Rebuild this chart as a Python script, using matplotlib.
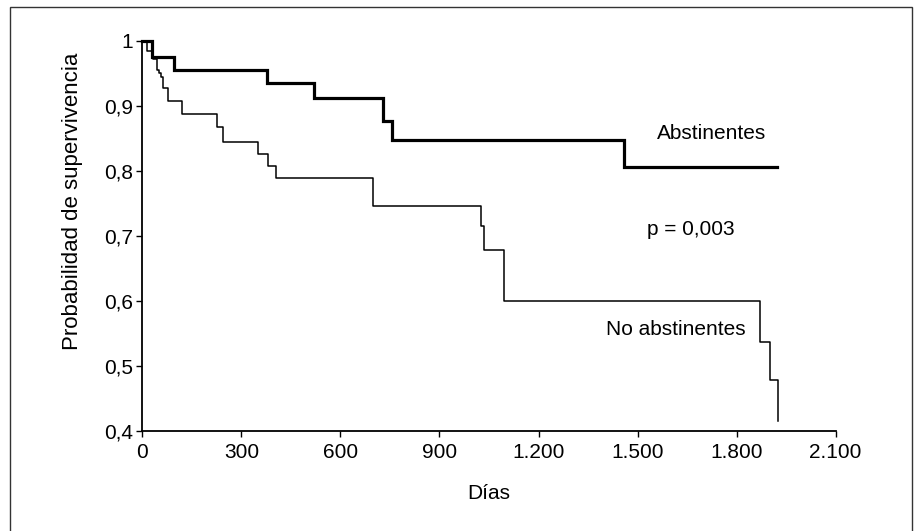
import matplotlib
matplotlib.use("Agg")
import matplotlib.pyplot as plt
from matplotlib.patches import Rectangle

plt.rcParams['font.family'] = ['Liberation Sans', 'DejaVu Sans']

# Abstinentes (thick curve): event times (days) and survival after each step
abst_days = [0, 30, 95, 378, 521, 728, 755, 1459, 1923]
abst_surv = [1.0, 0.976, 0.956, 0.936, 0.912, 0.877, 0.848, 0.806, 0.806]

# No abstinentes (thin curve)
noab_days = [0, 13, 33, 43, 50, 57, 64, 77, 120, 225, 245, 351, 382, 405,
             698, 1025, 1035, 1096, 1871, 1901, 1926]
noab_surv = [1.0, 0.985, 0.972, 0.956, 0.950, 0.945, 0.927, 0.907, 0.887,
             0.868, 0.845, 0.826, 0.807, 0.789, 0.746, 0.716, 0.678, 0.600,
             0.537, 0.478, 0.415]

x_ticks = [0, 300, 600, 900, 1200, 1500, 1800, 2100]
x_ticklabels = ['0', '300', '600', '900', '1.200', '1.500', '1.800', '2.100']
y_ticks = [0.4, 0.5, 0.6, 0.7, 0.8, 0.9, 1.0]
y_ticklabels = ['0,4', '0,5', '0,6', '0,7', '0,8', '0,9', '1']

FS = 15

fig = plt.figure(figsize=(9.17, 5.31), dpi=100)
ax = fig.add_axes([0.1552, 0.1883, 0.7561, 0.7345])

ax.step(abst_days, abst_surv, where='post', color='black', lw=2.3,
        clip_on=False, solid_joinstyle='miter')
ax.step(noab_days, noab_surv, where='post', color='black', lw=1.1,
        clip_on=False)

ax.set_xlim(0, 2100)
ax.set_ylim(0.4, 1.0)
ax.set_xticks(x_ticks)
ax.set_xticklabels(x_ticklabels)
ax.set_yticks(y_ticks)
ax.set_yticklabels(y_ticklabels)
for s in ['top', 'right']:
    ax.spines[s].set_visible(False)
for s in ['left', 'bottom']:
    ax.spines[s].set_linewidth(1.3)
ax.tick_params(axis='both', direction='out', length=4.5, width=1.0,
               labelsize=FS)
ax.tick_params(axis='y', pad=2)
ax.tick_params(axis='x', pad=4)
ax.set_xlabel('Días', fontsize=FS)
ax.set_ylabel('Probabilidad de supervivencia', fontsize=16)
ax.xaxis.set_label_coords(0.5, -0.135)
ax.yaxis.set_label_coords(-0.086, 0.59)

ax.text(1559, 0.858, 'Abstinentes', fontsize=FS, ha='left', va='center')
ax.text(1528, 0.710, 'p = 0,003', fontsize=FS, ha='left', va='center')
ax.text(1404, 0.556, 'No abstinentes', fontsize=FS, ha='left', va='center')

# outer frame
fig.patches.append(Rectangle((10 / 917, -0.05), 902 / 917, 1 - 7 / 531 + 0.05,
                             transform=fig.transFigure, fill=False,
                             edgecolor='#333333', lw=1.0))

fig.savefig('out.png', dpi=100)
